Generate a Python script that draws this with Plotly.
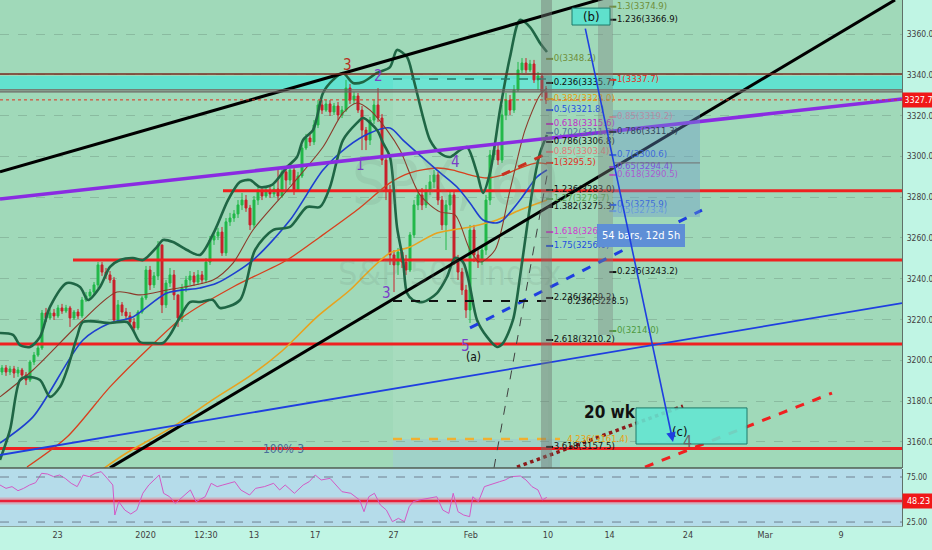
import plotly.graph_objects as go

# ---------------- price data (60-min S&P 500, each candle ~2 hourly bars) ----------------
open_ = [
    3194.3, 3196.3, 3194.3, 3195.8, 3193.8, 3195.3, 3192.8, 3190.4, 3199.2, 3202.6,
    3206.1, 3223.2, 3220.8, 3223.2, 3221.8, 3225.7, 3224.2, 3225.7, 3220.8, 3223.7,
    3221.8, 3229.6, 3231.6, 3233.5, 3237.0, 3246.8, 3243.3, 3241.9, 3239.4, 3219.8,
    3227.2, 3223.7, 3221.8, 3218.8, 3215.9, 3223.7, 3230.6, 3244.3, 3237.0, 3241.4,
    3256.6, 3227.2, 3237.9, 3241.9, 3232.1, 3220.8, 3235.5, 3239.4, 3241.4, 3238.4,
    3241.9, 3239.4, 3248.2, 3259.0, 3261.0, 3262.9, 3252.7, 3267.9, 3269.8, 3271.8,
    3276.2, 3278.6, 3274.7, 3266.4, 3278.6, 3282.6, 3280.6, 3283.5, 3281.6, 3284.0,
    3280.6, 3292.4, 3288.4, 3293.3, 3283.5, 3290.4, 3304.1, 3309.0, 3307.1, 3315.4,
    3325.2, 3322.7, 3325.7, 3321.8, 3324.7, 3320.3, 3322.7, 3333.5, 3327.6, 3329.6,
    3322.7, 3312.9, 3308.0, 3317.8, 3325.2, 3318.8, 3298.2, 3283.5, 3251.7, 3246.8,
    3253.1, 3248.2, 3244.3, 3261.5, 3276.2, 3281.1, 3276.2, 3283.5, 3287.5, 3290.9,
    3278.6, 3266.4, 3276.2, 3281.1, 3248.2, 3243.3, 3234.5, 3224.7, 3263.9, 3251.7,
    3248.2, 3254.1, 3278.6, 3300.7, 3303.1, 3298.2, 3320.3, 3327.6, 3322.7, 3332.6,
    3342.4, 3345.8, 3342.4, 3345.3, 3337.5, 3339.4, 3331.6]
high = [
    3197.7, 3197.7, 3197.3, 3197.3, 3196.8, 3196.3, 3194.3, 3200.2, 3204.1, 3207.5,
    3224.7, 3225.7, 3225.2, 3225.2, 3227.2, 3227.7, 3227.2, 3226.7, 3224.7, 3225.2,
    3231.1, 3233.5, 3235.0, 3238.4, 3248.2, 3248.2, 3245.3, 3243.8, 3240.9, 3229.6,
    3228.6, 3225.7, 3223.7, 3220.8, 3224.7, 3231.6, 3246.3, 3246.3, 3243.3, 3258.5,
    3256.6, 3239.4, 3245.3, 3244.3, 3231.6, 3237.5, 3241.4, 3243.8, 3243.3, 3244.3,
    3243.8, 3250.2, 3261.0, 3262.9, 3264.9, 3265.4, 3269.8, 3272.3, 3273.7, 3278.6,
    3282.1, 3281.1, 3276.2, 3280.6, 3285.0, 3284.5, 3285.5, 3285.0, 3286.0, 3294.8,
    3294.3, 3294.3, 3295.3, 3294.8, 3292.4, 3305.6, 3311.0, 3311.5, 3317.8, 3327.6,
    3327.6, 3327.6, 3327.6, 3326.2, 3326.7, 3324.7, 3337.5, 3335.5, 3331.6, 3331.1,
    3324.7, 3314.4, 3319.3, 3327.6, 3333.5, 3320.8, 3300.7, 3286.0, 3254.1, 3255.1,
    3255.1, 3251.7, 3262.9, 3278.6, 3283.5, 3284.5, 3286.0, 3290.9, 3293.3, 3292.4,
    3280.6, 3278.6, 3283.5, 3283.5, 3251.7, 3245.3, 3237.0, 3266.4, 3266.4, 3254.1,
    3256.6, 3281.1, 3303.1, 3305.6, 3305.6, 3325.2, 3331.1, 3330.1, 3335.0, 3346.3,
    3348.2, 3348.2, 3347.3, 3347.3, 3341.4, 3340.9, 3334.5]
low = [
    3192.8, 3192.4, 3192.8, 3191.4, 3191.9, 3191.4, 3187.9, 3189.4, 3197.7, 3201.7,
    3205.1, 3218.8, 3219.8, 3219.8, 3220.8, 3222.8, 3223.2, 3216.4, 3219.8, 3220.3,
    3220.8, 3228.6, 3230.1, 3232.1, 3235.5, 3241.4, 3239.9, 3237.9, 3218.3, 3218.8,
    3221.8, 3219.8, 3216.9, 3213.9, 3214.9, 3222.8, 3229.6, 3234.5, 3235.5, 3239.4,
    3223.2, 3225.7, 3236.0, 3229.6, 3216.4, 3218.8, 3233.5, 3237.0, 3236.5, 3237.0,
    3237.5, 3237.9, 3246.8, 3256.6, 3259.0, 3251.2, 3251.2, 3265.9, 3267.9, 3269.8,
    3273.7, 3272.8, 3263.9, 3264.9, 3276.2, 3278.6, 3279.6, 3279.6, 3280.1, 3278.6,
    3279.6, 3283.5, 3286.0, 3281.1, 3282.6, 3289.4, 3303.1, 3305.1, 3305.6, 3313.9,
    3320.8, 3321.8, 3319.8, 3320.3, 3317.8, 3318.8, 3321.8, 3325.7, 3325.7, 3321.3,
    3303.1, 3303.1, 3305.6, 3315.9, 3316.9, 3295.8, 3278.6, 3246.8, 3233.5, 3241.9,
    3245.3, 3241.9, 3243.3, 3260.0, 3273.7, 3273.7, 3274.7, 3281.1, 3284.5, 3276.2,
    3263.9, 3254.1, 3273.7, 3246.8, 3239.4, 3232.1, 3220.8, 3218.3, 3248.2, 3245.3,
    3246.8, 3251.7, 3276.2, 3298.2, 3295.8, 3296.8, 3317.8, 3320.3, 3321.3, 3331.6,
    3340.9, 3340.9, 3341.4, 3336.0, 3332.6, 3329.1, 3325.7]
close = [
    3196.3, 3194.3, 3195.8, 3193.8, 3195.3, 3192.8, 3190.4, 3199.2, 3202.6, 3206.1,
    3223.2, 3220.8, 3223.2, 3221.8, 3225.7, 3224.2, 3225.7, 3220.8, 3223.7, 3221.8,
    3229.6, 3231.6, 3233.5, 3237.0, 3246.8, 3243.3, 3241.9, 3239.4, 3219.8, 3227.2,
    3223.7, 3221.8, 3218.8, 3215.9, 3223.7, 3230.6, 3244.3, 3237.0, 3241.4, 3256.6,
    3227.2, 3237.9, 3241.9, 3232.1, 3220.8, 3235.5, 3239.4, 3241.4, 3238.4, 3241.9,
    3239.4, 3248.2, 3259.0, 3261.0, 3262.9, 3252.7, 3267.9, 3269.8, 3271.8, 3276.2,
    3278.6, 3274.7, 3266.4, 3278.6, 3282.6, 3280.6, 3283.5, 3281.6, 3284.0, 3280.6,
    3292.4, 3288.4, 3293.3, 3283.5, 3290.4, 3304.1, 3309.0, 3307.1, 3315.4, 3325.2,
    3322.7, 3325.7, 3321.8, 3324.7, 3320.3, 3322.7, 3333.5, 3327.6, 3329.6, 3322.7,
    3312.9, 3308.0, 3317.8, 3325.2, 3318.8, 3298.2, 3283.5, 3251.7, 3246.8, 3253.1,
    3248.2, 3244.3, 3261.5, 3276.2, 3281.1, 3276.2, 3283.5, 3287.5, 3290.9, 3278.6,
    3266.4, 3276.2, 3281.1, 3248.2, 3243.3, 3234.5, 3224.7, 3263.9, 3251.7, 3248.2,
    3254.1, 3278.6, 3300.7, 3303.1, 3298.2, 3320.3, 3327.6, 3322.7, 3332.6, 3342.4,
    3345.8, 3342.4, 3345.3, 3337.5, 3339.4, 3331.6, 3327.7]
bars = list(range(len(close)))
last_price = 3327.7

# ---------------- indicators ----------------
sma20_x = [-0.5, 7.75, 20.25, 28.75, 34.5, 41.25, 52.75, 57.75, 62.75, 72, 80.25, 85.25,
           88.75, 92, 96.25, 99.5, 104.5, 109.5, 113.25, 117, 119.5, 123.25, 127, 130.75, 134.5, 136.25]
sma20 = [3182.1, 3195.3, 3219.8, 3233.5, 3232.1, 3234.5, 3239.4, 3247.7, 3263.9, 3285.0, 3304.6, 3321.3,
         3326.2, 3322.7, 3312.9, 3303.1, 3281.1, 3272.8, 3271.3, 3254.1, 3248.2, 3254.1, 3283.5, 3312.9, 3330.1, 3333.5]
sma50_x = [-0.5, 7.75, 20.25, 27, 32.75, 41.25, 49.5, 53.75, 62.75, 72, 80.25, 86.25, 92, 97,
           100.25, 108.75, 113.75, 117, 120.25, 123.75, 125.25, 129.5, 133.75, 136.25]
sma50 = [3159.5, 3172.3, 3210.0, 3218.3, 3221.3, 3233.0, 3235.5, 3237.9, 3249.2, 3268.8, 3293.3, 3304.6,
         3311.5, 3313.9, 3308.0, 3293.3, 3285.0, 3277.2, 3268.8, 3267.4, 3268.8, 3278.6, 3289.9, 3293.3]
sma100_x = [6.25, 16.25, 27, 37, 45.25, 57.75, 71.25, 79.5, 88.75, 97, 102, 108.75, 112.75,
            117, 121.25, 125.25, 129.5, 133.75, 136.25]
sma100 = [3147.7, 3162.4, 3187.0, 3206.6, 3221.3, 3236.0, 3249.2, 3260.5, 3273.7, 3287.0, 3291.9,
          3294.3, 3293.3, 3290.9, 3289.4, 3290.9, 3294.3, 3296.8, 3296.3]
sma200_x = [22.75, 30.75, 42.25, 53, 62, 70, 78.75, 87, 92, 97, 102, 108.75, 117, 123.75, 129.5, 136.25]
sma200 = [3143.3, 3154.1, 3166.9, 3181.1, 3192.4, 3204.6, 3221.3, 3234.5, 3244.3, 3252.7, 3255.6,
          3262.4, 3265.4, 3268.8, 3273.7, 3278.6]
bb_up_x = [-0.5, 2.75, 4.5, 7, 9.5, 12, 16.25, 19.5, 21.5, 24.5, 27, 29.5, 32.75, 35.25, 38.75, 40.25,
           42.75, 46.25, 49.5, 53.25, 56.5, 59.5, 62, 64.5, 67.5, 71.25, 73.75, 75.25, 77.75, 78.75,
           80.25, 82.75, 85.25, 87.75, 90.25, 93.75, 97, 98.75, 101.25, 102.75, 105.25, 107, 109.5,
           112, 114.5, 116.25, 118.75, 120.25, 122, 124.5, 127, 129.5, 132, 134.5, 136.25]
bb_up = [3213.4, 3212.5, 3207.5, 3206.6, 3211.5, 3226.2, 3237.9, 3236.0, 3229.6, 3236.0, 3245.8,
         3249.2, 3250.2, 3249.2, 3255.6, 3259.0, 3258.0, 3254.1, 3251.7, 3263.9, 3278.6, 3287.5,
         3288.4, 3285.0, 3286.0, 3294.8, 3299.7, 3308.0, 3312.9, 3319.3, 3331.1, 3337.5, 3340.9,
         3336.0, 3336.5, 3340.9, 3343.8, 3352.2, 3348.7, 3338.9, 3319.3, 3308.0, 3301.7, 3299.7,
         3303.1, 3304.6, 3291.9, 3282.1, 3291.9, 3322.7, 3348.7, 3366.9, 3363.4, 3355.6, 3351.2]
bb_lo_x = [-0.5, 2, 4.5, 6.25, 9.5, 12, 14.5, 16.25, 18.75, 20.25, 27, 31.25, 32.75, 34.5, 37.75,
           40.25, 42, 44.5, 47, 49.5, 52.75, 54.5, 59.5, 63.25, 67.75, 72, 76.25, 79.5, 82, 83.75,
           85.25, 88.75, 90.25, 93.75, 95.25, 97, 98.75, 100.25, 101.25, 102.75, 105.25, 108.75,
           111.25, 113.25, 115.25, 117, 118.75, 121.25, 123.75, 125.25, 127.75, 129.5, 131.25,
           132.75, 134.5, 136.25]
bb_lo = [3151.2, 3165.9, 3190.4, 3191.9, 3190.4, 3182.1, 3187.0, 3195.3, 3211.5, 3218.8, 3218.3,
         3218.8, 3214.9, 3209.0, 3208.5, 3208.5, 3212.5, 3221.3, 3228.6, 3228.6, 3229.6, 3225.7,
         3229.6, 3254.1, 3263.9, 3265.4, 3275.2, 3275.2, 3285.0, 3298.2, 3308.0, 3316.4, 3318.8,
         3312.9, 3306.6, 3299.7, 3265.4, 3249.2, 3233.0, 3229.6, 3228.6, 3233.0, 3240.9, 3250.2,
         3248.2, 3236.0, 3219.8, 3211.5, 3206.6, 3208.5, 3219.8, 3240.9, 3265.4, 3285.0, 3301.7, 3310.5]

rsi_x = [-0.5, 1.0, 2.5, 4.0, 5.4, 6.9, 8.4, 9.9, 11.4, 12.9, 14.4, 15.8, 17.3, 18.8, 20.3, 21.8,
         23.3, 24.8, 26.3, 27.7, 28.2, 29.2, 30.7, 32.2, 33.7, 35.2, 36.7, 38.1, 39.3, 40.4, 41.9,
         43.3, 44.8, 47.1, 48.5, 50.8, 52.3, 53.8, 55.2, 58.2, 59.7, 61.9, 63.4, 65.6, 67.9, 69.4,
         70.8, 73.1, 75.3, 76.8, 78.3, 79.8, 82.0, 83.5, 85.0, 87.2, 89.4, 90.5, 91.7, 93.1, 94.6,
         96.1, 97.6, 99.1, 100.6, 101.8, 102.8, 104.3, 106.5, 108.7, 110.2, 111.7, 112.8, 114.0,
         115.4, 116.9, 117.7, 119.1, 120.6, 122.9, 124.4, 125.8, 127.3, 129.6, 131.0, 132.5, 134.0,
         135.1, 136.2]
rsi = [66.1, 62.4, 64.3, 59.8, 62.4, 66.1, 68.7, 79.1, 78.3, 75.4, 77.2, 73.5, 68.0, 64.3, 77.2,
       75.4, 79.1, 80.9, 73.5, 66.1, 32.8, 47.6, 38.3, 33.9, 38.3, 56.9, 66.1, 71.7, 77.2, 56.9,
       53.1, 45.7, 51.3, 60.6, 47.6, 53.1, 68.0, 64.3, 66.1, 69.8, 60.6, 55.0, 62.4, 64.3, 68.0,
       60.6, 66.1, 56.9, 66.1, 69.8, 77.2, 71.7, 73.5, 66.1, 58.7, 56.9, 49.5, 36.5, 53.1, 56.9,
       43.9, 38.3, 25.4, 29.1, 25.4, 42.0, 47.6, 49.5, 51.3, 53.1, 38.3, 34.6, 56.9, 36.5, 32.8,
       31.0, 53.1, 47.6, 64.3, 68.0, 69.8, 71.7, 75.4, 76.1, 71.7, 64.3, 60.6, 49.5, 52.4]
rsi_last = 48.23
rsi_levels = [75, 25]

date_tick_pos = [13.9, 35.9, 51.0, 63.0, 78.3, 97.9, 117.2, 136.5, 151.9, 171.5, 190.8, 209.8]
date_tick_text = ['23', '2020', '12:30', '13', '17', '27', 'Feb', '10', '14', '24', 'Mar', '9']
price_ticks = [3160, 3180, 3200, 3220, 3240, 3260, 3280, 3300, 3320, 3340, 3360]

# ---------------- drawings ----------------
red_levels = [3283.2, 3249.2, 3208.0, 3156.8]
red_level_start = [55.25, 17.75, -0.5, -0.5]
zone_top, zone_bottom = 3339.4, 3333.0
brown_level = 3340.4
gray_levels = [3332.6, 3331.6]

chan_top_x, chan_top_y = [-0.5, 153.0], [3292.4, 3378.9]
chan_low_x, chan_low_y = [27.0, 223.25], [3147.3, 3376.7]
purple_x, purple_y = [-0.5, 225.0], [3279.1, 3328.1]
blue_long_x, blue_long_y = [-0.5, 225.0], [3153.6, 3228.1]
blue_dash_x, blue_dash_y = [117.0, 175.0], [3215.9, 3273.7]
red_dash_x, red_dash_y = [160.75, 207.5], [3147.7, 3184.0]
red_dot_x, red_dot_y = [128.75, 170.25], [3147.7, 3177.6]
red_short_x, red_short_y = [125.0, 137.0], [3290.9, 3302.2]
gray_dash_x, gray_dash_y = [123.0, 136.5], [3147.3, 3293.3]

fib_l_text = ['0(3348.2)', '0.236(3335.7)', '0.382(3328.0)', '0.5(3321.8)', '0.618(3315.6)',
              '0.702(3311.3)', '0.786(3306.8)', '0.85(3303.4)', '1(3295.5)', '1.236(3283.0)',
              '1.27(3279.7)', '1.382(3275.3)', '1.618(3262.9)', '1.75(3256.0)', '2.236(3229.2)',
              '2.618(3210.2)', '3.618(3157.5)']
fib_l_price = [3347.8, 3336.0, 3328.1, 3322.7, 3315.9, 3311.5, 3307.1, 3302.2, 3296.8, 3283.5,
               3279.1, 3275.2, 3262.9, 3256.1, 3230.6, 3210.0, 3157.6]
fib_l_color = ['#6f8f3a', '#111111', '#e6a010', '#1f4fe0', '#c02fc8', '#5070a0', '#111111',
               '#e07a7a', '#e0301e', '#111111', '#58a858', '#111111', '#d03ad0', '#1f4fe0',
               '#111111', '#111111', '#111111']
fib_r_text = ['1.3(3374.9)', '1.236(3366.9)', '1(3337.7)', '0.85(3319.2)', '0.786(3311.3)',
              '0.7(3300.6)', '0.65(3294.4)', '0.618(3290.5)', '0.5(3275.9)', '0.5(3273.4)',
              '0.236(3243.2)', '0(3214.0)']
fib_r_price = [3373.4, 3367.0, 3337.5, 3319.3, 3312.0, 3300.7, 3294.8, 3290.9, 3276.2, 3273.2,
               3243.3, 3214.4]
fib_r_color = ['#6f8f3a', '#111111', '#e0301e', '#e08a8a', '#111111', '#1f4fe0', '#8a2be2',
               '#d03ad0', '#1f4fe0', '#6aa0e0', '#111111', '#4f9a40']

# ---------------- styling ----------------
BG = '#a0d9b9'
MINT = '#c0f5e4'
GREEN = '#22b84a'
RED = '#c8202a'
FONT = 'Liberation Sans Narrow, DejaVu Sans Condensed, Liberation Sans, Arial, sans-serif'
MAIN_DOMAIN = [0.1103, 1.0]
RSI_DOMAIN = [0.0, 0.1084]

fig = go.Figure()


def line(x, y, color, width, dash='solid', yaxis='y', shape='linear'):
    fig.add_trace(go.Scatter(x=x, y=y, mode='lines', yaxis=yaxis, hoverinfo='skip',
                             line=dict(color=color, width=width, dash=dash, shape=shape,
                                       smoothing=0.8 if shape == 'spline' else None)))


# horizontal levels behind candles
for lvl, x0 in zip(red_levels, red_level_start):
    line([x0, 225], [lvl, lvl], '#f02020', 3)

fig.add_trace(go.Candlestick(
    x=bars, open=open_, high=high, low=low, close=close, whiskerwidth=0, hoverinfo='skip',
    increasing=dict(line=dict(color=GREEN, width=1), fillcolor=GREEN),
    decreasing=dict(line=dict(color=RED, width=1), fillcolor=RED)))

line(sma200_x, sma200, '#e8a21e', 1.6, shape='spline')
line(sma100_x, sma100, '#d8401e', 1.3, shape='spline')
line(sma50_x, sma50, '#1e3fd0', 1.6, shape='spline')
line(sma20_x, sma20, '#8b3a2a', 1.1, shape='spline')
line(bb_up_x, bb_up, '#1f6645', 2.6, shape='spline')
line(bb_lo_x, bb_lo, '#1f6645', 2.6, shape='spline')

# trend lines
line(chan_top_x, chan_top_y, '#000000', 3)
line(chan_low_x, chan_low_y, '#000000', 3)
line(purple_x, purple_y, '#8a2be2', 3.5)
line(blue_long_x, blue_long_y, '#1f3fe0', 1.8)
line(blue_dash_x, blue_dash_y, '#1f3fe0', 3, dash='dash')
line(red_dash_x, red_dash_y, '#f02020', 3, dash='dash')
line(red_dot_x, red_dot_y, '#8b1a1a', 3.5, dash='dot')
line(red_short_x, red_short_y, '#c83020', 3, dash='dash')
line(gray_dash_x, gray_dash_y, '#404040', 1, dash='dash')
line([97.75, 136.5], [3229.1, 3229.1], '#111111', 2, dash='dash')
line([97.75, 136.0], [3337.9, 3337.9], '#2a7a6a', 1.5, dash='dash')
line([97.75, 139.5], [3161.5, 3161.5], '#f0b030', 2.5, dash='dash')
line([-0.5, 225], [last_price, last_price], '#e03020', 1, dash='dot')
line([-0.5, 225], [brown_level, brown_level], '#7a2a20', 1.5)
for g in gray_levels:
    line([-0.5, 225], [g, g], '#6a6060', 1.2)

# fib labels
fig.add_trace(go.Scatter(
    x=[136.9] * len(fib_l_price), y=fib_l_price, mode='markers+text', hoverinfo='skip',
    marker=dict(symbol='line-ew', size=5, line=dict(width=2, color=fib_l_color)),
    text=fib_l_text, textposition='middle right',
    textfont=dict(family=FONT, size=9.5, color=fib_l_color)))
fig.add_trace(go.Scatter(
    x=[152.7] * len(fib_r_price), y=fib_r_price, mode='markers+text', hoverinfo='skip',
    marker=dict(symbol='line-ew', size=5, line=dict(width=2, color=fib_r_color)),
    text=fib_r_text, textposition='middle right',
    textfont=dict(family=FONT, size=9.5, color=fib_r_color)))
fig.add_trace(go.Scatter(
    x=[141.3], y=[3228.6], mode='text', text=['0.236(3228.5)'], textposition='middle right',
    hoverinfo='skip', textfont=dict(family=FONT, size=9.5, color='#111111')))
fig.add_trace(go.Scatter(
    x=[141.3], y=[3161.0], mode='text', text=['4.236(3161.4)'], textposition='middle right',
    hoverinfo='skip', textfont=dict(family=FONT, size=9.5, color='#e8a010')))

# RSI pane
fig.add_trace(go.Scatter(x=[-0.5, 225], y=[rsi_last, rsi_last], yaxis='y2', mode='lines',
                         hoverinfo='skip', line=dict(color='rgba(240,120,140,0.45)', width=7)))
fig.add_trace(go.Scatter(x=[-0.5, 225], y=[rsi_last, rsi_last], yaxis='y2', mode='lines',
                         hoverinfo='skip', line=dict(color='#e8203a', width=2.5)))
fig.add_trace(go.Scatter(x=rsi_x, y=rsi, yaxis='y2', mode='lines', hoverinfo='skip',
                         line=dict(color='#d25ac6', width=1)))

shapes = [
    dict(type='rect', xref='x domain', yref='y2 domain', x0=0, x1=1, y0=0, y1=1,
         fillcolor='#b5dcea', line=dict(width=0), layer='below'),
    dict(type='rect', xref='x', yref='y', x0=-0.5, x1=225, y0=zone_bottom, y1=zone_top,
         fillcolor='#62e2cf', line=dict(width=0), layer='below'),
    dict(type='rect', xref='x', yref='y', x0=97.75, x1=136.5, y0=3140, y1=3337.9,
         fillcolor='rgba(255,255,255,0.08)', line=dict(width=0), layer='below'),
    dict(type='rect', xref='x', yref='y', x0=97.75, x1=139.5, y0=3140, y1=3161.5,
         fillcolor='rgba(140,180,230,0.25)', line=dict(width=0), layer='below'),
    dict(type='rect', xref='x', yref='y domain', x0=134.75, x1=137.5, y0=0, y1=1,
         fillcolor='rgba(110,120,115,0.45)', line=dict(width=0)),
    dict(type='rect', xref='x', yref='y', x0=149.0, x1=152.75, y0=3212.5, y1=3380,
         fillcolor='rgba(125,135,130,0.40)', line=dict(width=0)),
    dict(type='rect', xref='x', yref='y', x0=152.75, x1=174.5, y0=3270.3, y1=3322.7,
         fillcolor='rgba(105,150,205,0.38)', line=dict(width=0)),
    dict(type='line', xref='x', yref='y', x0=152.75, x1=174.5, y0=3296.8, y1=3296.8,
         line=dict(color='#707070', width=1)),
    dict(type='rect', xref='x', yref='y', x0=142.5, x1=152.0, y0=3364.4, y1=3372.7,
         fillcolor='#5fe0cc', line=dict(color='#1d7a6a', width=1)),
    dict(type='rect', xref='x', yref='y', x0=158.5, x1=186.25, y0=3159.0, y1=3176.7,
         fillcolor='rgba(100,228,210,0.9)', line=dict(color='#1d7a6a', width=1)),
    dict(type='line', xref='x domain', yref='y2', x0=0, x1=1, y0=rsi_levels[0], y1=rsi_levels[0],
         line=dict(color='#708090', width=1, dash='dash')),
    dict(type='line', xref='x domain', yref='y2', x0=0, x1=1, y0=rsi_levels[1], y1=rsi_levels[1],
         line=dict(color='#708090', width=1, dash='dash')),
    dict(type='line', xref='paper', yref='paper', x0=0, x1=1, y0=MAIN_DOMAIN[0], y1=MAIN_DOMAIN[0],
         line=dict(color='#505a55', width=1.5)),
]

ann = []


def txt(x, y, s, color, size, bold=False, yref='y', **kw):
    ann.append(dict(x=x, y=y, xref='x', yref=yref, text=('<b>%s</b>' % s) if bold else s,
                    showarrow=False, font=dict(family=FONT, size=size, color=color), **kw))


# watermark
txt(113.25, 3287.0, 'SPX, 60', 'rgba(110,140,125,0.16)', 60)
txt(112.0, 3243.0, 'S&P 500 Index', 'rgba(110,140,125,0.16)', 34)

# wave labels
txt(86.25, 3344.8, '3', '#b83020', 15)
txt(94.0, 3339.4, '2', '#7a3ec8', 15)
txt(89.5, 3295.8, '1', '#7a3ec8', 15)
txt(113.25, 3297.3, '4', '#7a3ec8', 15)
txt(96.0, 3233.0, '3', '#7a3ec8', 15)
txt(115.75, 3207.0, '5', '#7a3ec8', 15)
txt(117.9, 3201.7, '(a)', '#111111', 12)
txt(147.3, 3368.6, '(b)', '#111111', 13)
txt(169.6, 3165.2, '(c)', '#111111', 13)
txt(171.4, 3160.3, '4', '#6a6a6a', 16)
txt(152.0, 3174.7, '20 wk', '#111111', 17, bold=True)
txt(70.25, 3156.6, '100% 3', '#4a6e9a', 12)

ann.append(dict(x=159.75, y=3261.0, xref='x', yref='y', text='54 bars, 12d 5h', showarrow=False,
                bgcolor='#5e8fd6', bordercolor='#5e8fd6', borderpad=4,
                font=dict(family=FONT, size=11, color='white')))
ann.append(dict(x=167.75, y=3160.0, ax=145.75, ay=3363.4, xref='x', yref='y', axref='x', ayref='y',
                showarrow=True, arrowhead=2, arrowsize=1.2, arrowwidth=1.6, arrowcolor='#1f3fe0', text=''))
ann.append(dict(x=1.0, y=last_price, xref='paper', yref='y', xanchor='left', text='3327.7',
                showarrow=False, bgcolor='#f01818', font=dict(family=FONT, size=9, color='white'),
                width=27, borderpad=2))
ann.append(dict(x=1.0, y=rsi_last, xref='paper', yref='y2', xanchor='left', text='48.23',
                showarrow=False, bgcolor='#f01818', font=dict(family=FONT, size=9, color='white'),
                width=27, borderpad=2))

fig.update_layout(
    width=932, height=550, margin=dict(l=0, r=30, t=0, b=24, autoexpand=False),
    paper_bgcolor=MINT, plot_bgcolor=BG, showlegend=False,
    font=dict(family=FONT, size=9, color='#333333'),
    shapes=shapes, annotations=ann,
    xaxis=dict(range=[-0.5, 225], anchor='y2', showgrid=False, zeroline=False,
               tickvals=date_tick_pos, ticktext=date_tick_text, ticks='',
               tickfont=dict(family=FONT, size=9, color='#404040'),
               rangeslider=dict(visible=False), showline=True, linecolor='#8aa69a'),
    yaxis=dict(domain=MAIN_DOMAIN, range=[3147.25, 3376.67], side='right', showgrid=True,
               gridcolor='rgba(110,150,130,0.45)', griddash='dash', gridwidth=1,
               zeroline=False, tickvals=price_ticks, ticktext=['%.1f' % v for v in price_ticks],
               ticks='', ticklabelstandoff=2,
               tickfont=dict(family=FONT, size=8.5, color='#404040'),
               showline=True, linecolor='#607068'),
    yaxis2=dict(domain=RSI_DOMAIN, range=[20.6, 83.9], side='right', showgrid=False,
                zeroline=False, tickvals=[25, 75], ticktext=['25.00', '75.00'],
                ticks='', ticklabelstandoff=2,
                tickfont=dict(family=FONT, size=8, color='#404040'),
                showline=True, linecolor='#607068'),
)

fig.write_html('out.html', config={'displayModeBar': False},
               post_script="document.body.style.margin='0';document.body.style.overflow='hidden';")
